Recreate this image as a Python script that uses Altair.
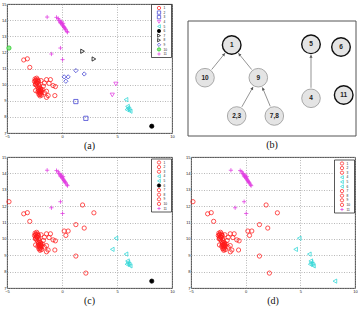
import math
import altair as alt
import pandas as pd

# ---- scatter data: point coordinates and their cluster id (1..11) ----
xs = [
    # cluster 1
    -3.48, -3.15, -2.93,
    -2.45, -2.40, -2.35, -2.50, -2.30, -2.20, -2.25, -2.40, -2.15, -2.30, -2.10, -2.20, -2.05,
    -2.15, -2.00, -1.90, -2.05, -1.95, -1.85, -2.10, -1.80, -1.95, -2.20, -1.85, -2.00, -2.40, -2.08,
    -1.41, -1.05, -1.17, -0.81, -0.60, -1.41, -1.26, -1.41, -0.65, -1.60, -1.70, -1.60, -1.90, -2.00,
    -2.35, -2.28, -2.42, -2.18, -2.00, -1.92, -2.12,
    # cluster 2, 3
    1.26, 2.17,
    # cluster 4
    4.90, 4.57,
    # cluster 5
    5.82, 5.95, 6.00, 5.90, 6.20, 6.10,
    # cluster 6
    8.16,
    # cluster 7, 8
    1.87, 2.90,
    # cluster 9
    1.26, 2.02, 0.20, 0.56, 0.35,
    # cluster 10
    -4.82,
    # cluster 11
    -1.35, -0.50, -0.35, -0.30, -0.20, -0.15, -0.10, 0.00, 0.05, 0.10, 0.15, 0.20, 0.25, 0.30,
    0.35, 0.45, 0.50, -0.05, 0.10, -0.14, -0.96, 0.05,
]
ys = [
    11.53, 11.60, 11.07,
    10.35, 10.25, 10.15, 10.20, 10.40, 10.30, 10.10, 10.05, 10.20, 9.95, 10.00, 9.85, 9.90,
    9.70, 9.65, 9.60, 9.50, 9.45, 9.55, 9.40, 9.70, 9.75, 9.55, 9.35, 9.30, 9.63, 9.79,
    10.31, 10.31, 10.08, 9.94, 9.88, 9.59, 9.32, 9.21, 9.32, 9.50, 9.90, 10.10, 10.25, 9.38,
    10.28, 10.12, 10.00, 10.22, 9.58, 9.68, 9.62,
    8.95, 7.91,
    10.04, 9.36,
    9.07, 8.65, 8.55, 8.45, 8.35, 8.45,
    7.42,
    12.07, 11.59,
    10.87, 10.66, 10.48, 10.48, 10.21,
    12.27,
    14.19, 14.17, 14.10, 14.00, 13.95, 13.85, 13.80, 13.75, 13.70, 13.65, 13.60, 13.55, 13.50, 13.45,
    13.40, 13.30, 13.25, 13.90, 13.80, 12.27, 11.90, 11.55,
]
cluster = (
    [1] * 51 + [2, 3] + [4, 4] + [5] * 6 + [6] + [7, 8] + [9] * 5 + [10] + [11] * 22
)

ids = [str(i) for i in range(1, 12)]
x_ticks = [-5, 0, 5, 10]
y_ticks = [7, 8, 9, 10, 11, 12, 13, 14, 15]

RED, BLUE, MAGENTA, CYAN, BLACK, GREEN = (
    "#ff1a1a", "#3a3ad0", "#e03ae0", "#2cd6d6", "#000000", "#22cc22",
)
PLUS = "M-1,0H1M0,-1V1"

# marker style of each cluster in the initial clustering
shape_a = ["circle", "square", "square", "triangle-down", "triangle-left", "circle",
           "triangle-right", "triangle-right", "diamond", "circle", PLUS]
stroke_a = [RED, BLUE, BLUE, MAGENTA, CYAN, BLACK, BLACK, BLACK, BLUE, GREEN, MAGENTA]
fill_a = ["transparent"] * 5 + [BLACK] + ["transparent"] * 3 + ["#8ee88e", "transparent"]

# cluster merges: each id is drawn with the style of the cluster it joined
merge_c = [1, 1, 1, 5, 5, 6, 1, 1, 1, 1, 11]
merge_d = [1, 1, 1, 5, 5, 5, 1, 1, 1, 1, 11]

X_DOM, Y_DOM = [-5, 10], [7, 15]

df = pd.DataFrame({"x": xs, "y": ys, "cluster": [str(c) for c in cluster]})

AXIS = dict(
    labelFontSize=4, labelFont="Liberation Sans", labelColor="#222", labelPadding=1,
    labelOverlap=False, labelFlush=False,
    ticks=False, domain=False, gridColor="#9a9a9a", gridDash=[1, 1.5], gridWidth=0.7,
    title=None,
)


def title(t):
    return alt.TitleParams(t, orient="bottom", font="Liberation Serif", fontSize=10,
                           fontWeight="normal", frame="group", anchor="middle", offset=3,
                           color="#111")


def xenc(field):
    return alt.X(field, scale=alt.Scale(domain=X_DOM, nice=False, zero=False),
                 axis=alt.Axis(values=x_ticks, **AXIS))


def yenc(field):
    return alt.Y(field, scale=alt.Scale(domain=Y_DOM, nice=False, zero=False),
                 axis=alt.Axis(values=y_ticks, **AXIS))


def scatter(merge, w, h, label, leg_top):
    shapes = [shape_a[m - 1] for m in merge]
    strokes = [stroke_a[m - 1] for m in merge]
    fills = [fill_a[m - 1] for m in merge]

    # pixel -> data conversions for the in-plot legend box
    px = (X_DOM[1] - X_DOM[0]) / w
    py = (Y_DOM[1] - Y_DOM[0]) / h
    row = 4.6
    box_w, box_h = 20.5, 2.4 + row * len(ids)
    legend_box = pd.DataFrame({
        "x": [X_DOM[1] - box_w * px], "x2": [X_DOM[1] - 0.5 * px],
        "y": [Y_DOM[1] - leg_top * py], "y2": [Y_DOM[1] - (leg_top + box_h) * py],
    })
    legend_rows = pd.DataFrame({
        "x": [X_DOM[1] - 13 * px] * len(ids),
        "tx": [X_DOM[1] - 8.5 * px] * len(ids),
        "y": [Y_DOM[1] - (leg_top + 1.2 + row * (i + 0.5)) * py for i in range(len(ids))],
        "cluster": ids,
    })

    enc_style = dict(
        shape=alt.Shape("cluster:N", scale=alt.Scale(domain=ids, range=shapes)),
        stroke=alt.Stroke("cluster:N", scale=alt.Scale(domain=ids, range=strokes)),
        fill=alt.Fill("cluster:N", scale=alt.Scale(domain=ids, range=fills)),
    )
    pts = alt.Chart(df).mark_point(size=18, strokeWidth=0.75, opacity=1).encode(
        x=xenc("x:Q"), y=yenc("y:Q"), **enc_style,
    )
    frame = alt.Chart(legend_box).mark_rect(
        fill="white", stroke="#111", strokeWidth=0.7
    ).encode(x=xenc("x:Q"), x2="x2:Q", y=yenc("y:Q"), y2="y2:Q")
    syms = alt.Chart(legend_rows).mark_point(size=11, strokeWidth=0.7, opacity=1).encode(
        x=xenc("x:Q"), y=yenc("y:Q"), **enc_style,
    )
    texts = alt.Chart(legend_rows).mark_text(
        align="left", baseline="middle", fontSize=3.2, font="Liberation Sans", color="#222"
    ).encode(x=xenc("tx:Q"), y=yenc("y:Q"), text="cluster:N")
    return alt.layer(pts, frame, syms, texts).properties(
        width=w, height=h, title=title(label)
    )


# ---- cluster merge graph ----
node_name = ["1", "10", "9", "2,3", "7,8", "5", "6", "4", "11"]
node_x = [44.7, 18.0, 71.3, 49.7, 87.3, 124.0, 154.0, 124.0, 156.7]
node_y = [41.0, 73.7, 73.7, 112.0, 112.0, 40.3, 43.0, 94.3, 91.0]
node_bold = [True, False, False, False, False, True, True, False, True]
edges = [("10", "1"), ("9", "1"), ("2,3", "9"), ("7,8", "9"), ("4", "5")]
frame_x, frame_y = [1, 169], [17, 132]

GW, GH = 170, 133
R = 10.5

nodes = pd.DataFrame({
    "x": node_x, "y": node_y, "name": node_name,
    "sc": ["#111" if b else "#8a8a8a" for b in node_bold],
    "sw": [1.4 if b else 0.7 for b in node_bold],
})

pos = dict(zip(node_name, zip(node_x, node_y)))
seg_rows, head_rows = [], []
for s, t in edges:
    (x0, y0), (x1, y1) = pos[s], pos[t]
    d = math.hypot(x1 - x0, y1 - y0)
    ux, uy = (x1 - x0) / d, (y1 - y0) / d
    seg_rows.append({"x": x0 + ux * R, "y": y0 + uy * R,
                     "x2": x1 - ux * R, "y2": y1 - uy * R})
    ang = math.degrees(math.atan2(ux, -uy)) % 360
    head_rows.append({"x": x1 - ux * (R + 1.6), "y": y1 - uy * (R + 1.6), "a": ang})
segs = pd.DataFrame(seg_rows)
heads = pd.DataFrame(head_rows)
frame = pd.DataFrame({"x": [frame_x[0]], "x2": [frame_x[1]], "y": [frame_y[0]], "y2": [frame_y[1]]})

gx = alt.Scale(domain=[0, GW], nice=False, zero=False)
gy = alt.Scale(domain=[0, GH], nice=False, zero=False, reverse=True)

box = alt.Chart(frame).mark_rect(fill="white", stroke="#555", strokeWidth=1).encode(
    x=alt.X("x:Q", scale=gx, axis=None), x2="x2:Q",
    y=alt.Y("y:Q", scale=gy, axis=None), y2="y2:Q",
)
lines = alt.Chart(segs).mark_rule(color="#666", strokeWidth=0.7).encode(
    x=alt.X("x:Q", scale=gx, axis=None), x2="x2:Q",
    y=alt.Y("y:Q", scale=gy, axis=None), y2="y2:Q",
)
arrowheads = alt.Chart(heads).mark_point(
    shape="triangle-up", filled=True, color="#555", size=10, opacity=1
).encode(
    x=alt.X("x:Q", scale=gx, axis=None), y=alt.Y("y:Q", scale=gy, axis=None),
    angle=alt.Angle("a:Q", scale=None),
)
circles = alt.Chart(nodes).mark_point(
    shape="circle", filled=True, fill="#e4e4e4", size=math.pi * R * R, opacity=1
).encode(
    x=alt.X("x:Q", scale=gx, axis=None), y=alt.Y("y:Q", scale=gy, axis=None),
    stroke=alt.Stroke("sc:N", scale=None), strokeWidth=alt.StrokeWidth("sw:Q", scale=None),
)
labels = alt.Chart(nodes).mark_text(
    font="Liberation Sans", fontWeight="bold", fontSize=6.5, color="#222"
).encode(
    x=alt.X("x:Q", scale=gx, axis=None), y=alt.Y("y:Q", scale=gy, axis=None), text="name:N",
)

graph = alt.layer(box, lines, arrowheads, circles, labels).properties(
    width=GW, height=GH, title=title("(b)"),
    view=alt.ViewBackground(stroke="transparent"),
)

panel_a = scatter(list(range(1, 12)), 165, 129, "(a)", 0.5)
panel_c = scatter(merge_c, 165, 131, "(c)", 2)
panel_d = scatter(merge_d, 164, 131, "(d)", 3)

INDEP = dict(shape="independent", stroke="independent", fill="independent")

top = alt.hconcat(panel_a, graph, spacing=11).resolve_scale(**INDEP)
bottom = alt.hconcat(panel_c, panel_d, spacing=10).resolve_scale(**INDEP)

chart = alt.vconcat(top, bottom, spacing=2).properties(
    padding={"left": 1, "top": 1, "right": 0, "bottom": 0}, background="white",
).configure_view(stroke="#333", strokeWidth=0.9).configure_legend(disable=True).resolve_scale(
    **INDEP
)

chart.save("out.html", embed_options={"renderer": "svg", "actions": False})
